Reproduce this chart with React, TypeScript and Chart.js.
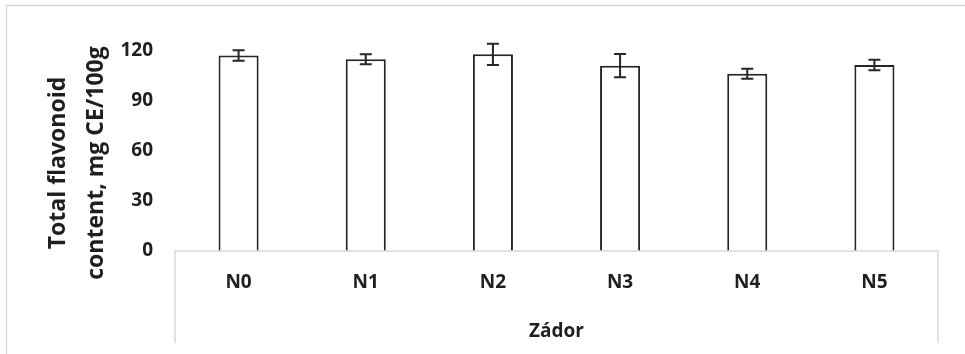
import React, { useEffect, useRef } from "react";
import { Chart, registerables } from "chart.js";

Chart.register(...registerables);

const categories = ["N0", "N1", "N2", "N3", "N4", "N5"];
const means = [117.3, 115.0, 118.0, 111.2, 106.4, 111.6];
const errors = [3.1, 3.0, 6.4, 7.0, 3.0, 3.1];
const yMin = 0;
const yMax = 120;
const yStep = 30;
const yTitleLines = ["Total flavonoid", "content, mg CE/100g"];
const xTitle = "Zádor";

const FONT = "'Open Sans', 'Liberation Sans', sans-serif";
const TEXT = "#1f1f1f";
const INK = "#262626";
const FRAME = "#d9d9d9";

const decorPlugin = {
  id: "decor",
  beforeDraw(chart: any) {
    const ctx = chart.ctx;
    ctx.save();
    ctx.fillStyle = "#ffffff";
    ctx.fillRect(0, 0, chart.width, chart.height);
    ctx.strokeStyle = FRAME;
    ctx.lineWidth = 1.5;
    ctx.beginPath();
    ctx.moveTo(6.5, chart.height + 2);
    ctx.lineTo(6.5, 5.5);
    ctx.lineTo(chart.width + 2, 5.5);
    ctx.stroke();
    ctx.restore();
  },
  afterDatasetsDraw(chart: any) {
    const ctx = chart.ctx;
    const area = chart.chartArea;
    const y = chart.scales.y;
    ctx.save();
    // category axis box
    ctx.strokeStyle = FRAME;
    ctx.lineWidth = 1.5;
    ctx.beginPath();
    ctx.moveTo(area.left, area.bottom + 92);
    ctx.lineTo(area.left, area.bottom);
    ctx.lineTo(area.right, area.bottom);
    ctx.lineTo(area.right, area.bottom + 92);
    ctx.stroke();
    // error bars
    const meta = chart.getDatasetMeta(0);
    ctx.strokeStyle = INK;
    ctx.lineWidth = 2;
    meta.data.forEach((bar: any, i: number) => {
      const x = bar.x;
      const top = y.getPixelForValue(means[i] + errors[i]);
      const bot = y.getPixelForValue(means[i] - errors[i]);
      const half = 6;
      ctx.beginPath();
      ctx.moveTo(x, top);
      ctx.lineTo(x, bot);
      ctx.moveTo(x - half, top);
      ctx.lineTo(x + half, top);
      ctx.moveTo(x - half, bot);
      ctx.lineTo(x + half, bot);
      ctx.stroke();
    });
    ctx.restore();
  },
  afterDraw(chart: any) {
    const ctx = chart.ctx;
    ctx.save();
    ctx.translate(0, 163);
    ctx.rotate(-Math.PI / 2);
    ctx.fillStyle = TEXT;
    ctx.font = `bold 23px ${FONT}`;
    ctx.textAlign = "center";
    ctx.textBaseline = "alphabetic";
    ctx.fillText(yTitleLines[0], 0, 65);
    ctx.fillText(yTitleLines[1], 0, 103);
    ctx.restore();
  },
};

export default function App() {
  const ref = useRef<HTMLCanvasElement | null>(null);
  useEffect(() => {
    if (!ref.current) return;
    const chart = new Chart(ref.current, {
      type: "bar",
      data: {
        labels: categories,
        datasets: [
          {
            data: means,
            backgroundColor: "#ffffff",
            borderColor: INK,
            borderWidth: 2,
            categoryPercentage: 1,
            barPercentage: 0.315,
          },
        ],
      },
      options: {
        responsive: false,
        animation: false,
        layout: { padding: { top: 51, right: 27, left: 0, bottom: 0 } },
        plugins: {
          legend: { display: false },
          tooltip: { enabled: false },
        },
        scales: {
          x: {
            grid: { display: false, drawTicks: false },
            border: { display: false },
            ticks: {
              color: TEXT,
              font: { family: FONT, size: 19, weight: "bold" },
              padding: 20,
              maxRotation: 0,
            },
            title: {
              display: true,
              text: xTitle,
              color: TEXT,
              font: { family: FONT, size: 19, weight: "bold" },
              padding: { top: 0, bottom: 11 },
            },
            afterFit(scale: any) {
              scale.height = 103;
            },
          },
          y: {
            min: yMin,
            max: yMax,
            grid: { display: false, drawTicks: false },
            border: { display: false },
            ticks: {
              stepSize: yStep,
              color: TEXT,
              font: { family: FONT, size: 19, weight: "bold" },
              padding: 22,
            },
            afterFit(scale: any) {
              scale.width = 175;
            },
          },
        },
      },
      plugins: [decorPlugin],
    });
    return () => chart.destroy();
  }, []);
  return (
    <div style={{ position: "absolute", left: 0, top: 0, width: 965, height: 354 }}>
      <canvas ref={ref} width={965} height={354} style={{ display: "block" }} />
    </div>
  );
}
